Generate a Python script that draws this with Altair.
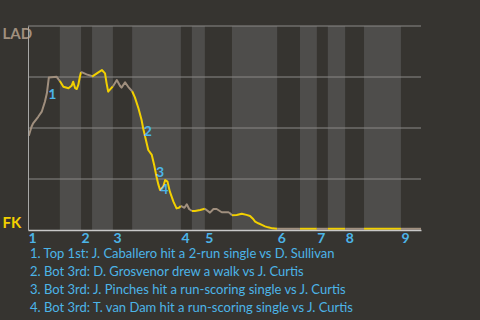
import altair as alt
import pandas as pd

# ---- data ----
# half-inning start positions (play-number units); even index = top half, odd = bottom half
half_starts = [0, 8.1, 13.5, 16.3, 21.6, 26.5, 38.9, 41.7, 45.0, 51.9,
               63.4, 69.2, 73.5, 76.3, 80.7, 85.5, 94.9]
game_end = 100
inning_labels = ["1", "2", "3", "4", "5", "6", "7", "8", "9"]

# win probability (0 = FK, 1 = LAD) by play position
play_x = [0.2, 0.9, 1.3, 2.6, 3.5, 4.3, 4.8, 5.3, 7.3, 8.1,
          9.0, 10.3, 11.1, 11.5, 12.0, 12.4, 12.8, 13.2, 13.5,
          14.9, 16.2, 16.3,
          17.9, 18.8, 19.6, 20.0, 20.4, 21.3, 21.6,
          22.6, 23.4, 23.8, 24.7, 25.5, 26.5,
          27.2, 28.1, 28.9, 29.3, 29.9, 30.6, 31.5, 32.1, 32.7, 33.2, 33.6,
          34.4, 34.9, 35.5, 36.1, 37.0, 37.8, 38.4, 38.9,
          39.8, 40.4, 41.0, 41.7,
          42.5, 43.8, 45.0,
          46.3, 47.2, 48.0, 49.3, 51.0, 51.4, 51.9,
          53.1, 54.4, 55.6, 56.5, 57.3, 57.8, 58.6, 59.5, 60.3, 61.1, 62.2, 63.4,
          69.2, 73.5, 76.3, 80.7, 85.5, 94.9, 100]
win_prob = [0.462, 0.506, 0.523, 0.555, 0.580, 0.629, 0.670, 0.747, 0.751, 0.730,
            0.702, 0.695, 0.707, 0.727, 0.695, 0.691, 0.711, 0.751, 0.775,
            0.763, 0.755, 0.752,
            0.773, 0.784, 0.768, 0.719, 0.678, 0.698, 0.703,
            0.735, 0.707, 0.698, 0.724, 0.702, 0.680,
            0.650, 0.597, 0.539, 0.499, 0.450, 0.392, 0.368, 0.319, 0.261, 0.221, 0.196,
            0.212, 0.245, 0.237, 0.188, 0.139, 0.106, 0.109, 0.118,
            0.109, 0.126, 0.103, 0.093,
            0.093, 0.098, 0.104,
            0.085, 0.103, 0.103, 0.087, 0.087, 0.082, 0.072,
            0.074, 0.080, 0.074, 0.069, 0.054, 0.041, 0.033, 0.025, 0.018, 0.013, 0.008, 0.006,
            0.006, 0.006, 0.006, 0.006, 0.006, 0.006, 0.006]

# key events
event_num = ["1", "2", "3", "4"]
event_x = [6.2, 30.5, 33.6, 34.7]
event_y = [0.662, 0.480, 0.279, 0.194]
event_text = [
    "1. Top 1st: J. Caballero hit a 2-run single vs D. Sullivan",
    "2. Bot 3rd: D. Grosvenor drew a walk vs J. Curtis",
    "3. Bot 3rd: J. Pinches hit a run-scoring single vs J. Curtis",
    "4. Bot 3rd: T. van Dam hit a run-scoring single vs J. Curtis",
]
grid_values = [0.25, 0.5, 0.75, 1.0]

# ---- styling ----
BG = "#363430"
BAND = "#4e4d4b"
TAN = "#a08f7e"
YELLOW = "#f2d000"
BLUE = "#4cb4e8"
GRID = "#8a8987"
FONT = "Lato"

# ---- build tables ----
bounds = half_starts[1:]
segs = {}
for x, y in zip(play_x, win_prob):
    s = sum(1 for b in bounds if b < x)
    segs.setdefault(s, []).append((x, y))
rows = []
for s in sorted(segs):
    pts = segs[s]
    if s > 0 and (s - 1) in segs:
        pts = [segs[s - 1][-1]] + pts
    for x, y in pts:
        rows.append({"x": x, "wp": y, "seg": s, "team": "top" if s % 2 == 0 else "bot"})
line_df = pd.DataFrame(rows)

ends = half_starts[1:] + [game_end]
band_df = pd.DataFrame([
    {"start": half_starts[i], "end": ends[i]}
    for i in range(len(half_starts)) if i % 2 == 1
])
grid_df = pd.DataFrame({"v": grid_values})
ev_df = pd.DataFrame({"x": event_x, "y": event_y, "n": event_num})

top_starts = half_starts[0::2]
label_expr = "[" + ",".join(inning_labels) + "][indexof([" + ",".join(str(v) for v in top_starts) + "], datum.value)]"

xscale = alt.Scale(domain=[0, game_end], nice=False, zero=False)
yscale = alt.Scale(domain=[0, 1], nice=False)

x_axis = alt.Axis(values=top_starts, labelExpr=label_expr, title=None, grid=False,
                  ticks=False, tickSize=0, labelAlign="left", labelBaseline="top",
                  labelPadding=1, labelColor=BLUE, labelFont=FONT, labelFontSize=14,
                  labelFontWeight="bold", domainColor="#c8c8c8", domainWidth=1.5,
                  labelOverlap=False, labelFlush=False, zindex=1)
y_axis = alt.Axis(values=[0, 1], labelExpr="datum.value == 1 ? 'LAD' : 'FK'",
                  title=None, grid=False, ticks=False, tickSize=0,
                  labelAlign="left", labelPadding=26,
                  labelBaseline={"condition": {"test": "datum.value == 1", "value": "top"}, "value": "bottom"},
                  labelColor={"condition": {"test": "datum.value == 1", "value": TAN}, "value": YELLOW},
                  labelFont=FONT, labelFontSize=15, labelFontWeight="bold",
                  domainColor="#a8a8a6", domainWidth=1, zindex=1)

bands = alt.Chart(band_df).mark_rect(color=BAND).encode(
    x=alt.X("start:Q", scale=xscale, axis=x_axis),
    x2="end:Q",
)
grid = alt.Chart(grid_df).mark_rule(color=GRID, strokeWidth=1).encode(
    y=alt.Y("v:Q", scale=yscale, axis=y_axis),
)
line = alt.Chart(line_df).mark_line(strokeWidth=2, strokeJoin="round").encode(
    x=alt.X("x:Q", scale=xscale),
    y=alt.Y("wp:Q", scale=yscale),
    detail="seg:N",
    color=alt.Color("team:N", scale=alt.Scale(domain=["top", "bot"], range=[TAN, YELLOW]), legend=None),
    order="x:Q",
)
labels = alt.Chart(ev_df).mark_text(color=BLUE, font=FONT, fontSize=14, fontWeight="bold",
                                     align="center", baseline="middle").encode(
    x=alt.X("x:Q", scale=xscale),
    y=alt.Y("y:Q", scale=yscale),
    text="n:N",
)

chart = alt.layer(bands, grid, line, labels).properties(
    width=393, height=204,
    autosize=alt.AutoSizeParams(type="none"),
    padding={"left": 28, "top": 26, "right": 59, "bottom": 90},
    background=BG,
    title=alt.TitleParams(text=event_text, orient="bottom", anchor="start", frame="group",
                          font=FONT, fontSize=13, fontWeight="normal", color=BLUE,
                          lineHeight=18, offset=3, dx=2),
).configure_view(stroke=None)

chart.save("out.html", embed_options={"renderer": "svg", "actions": False})
